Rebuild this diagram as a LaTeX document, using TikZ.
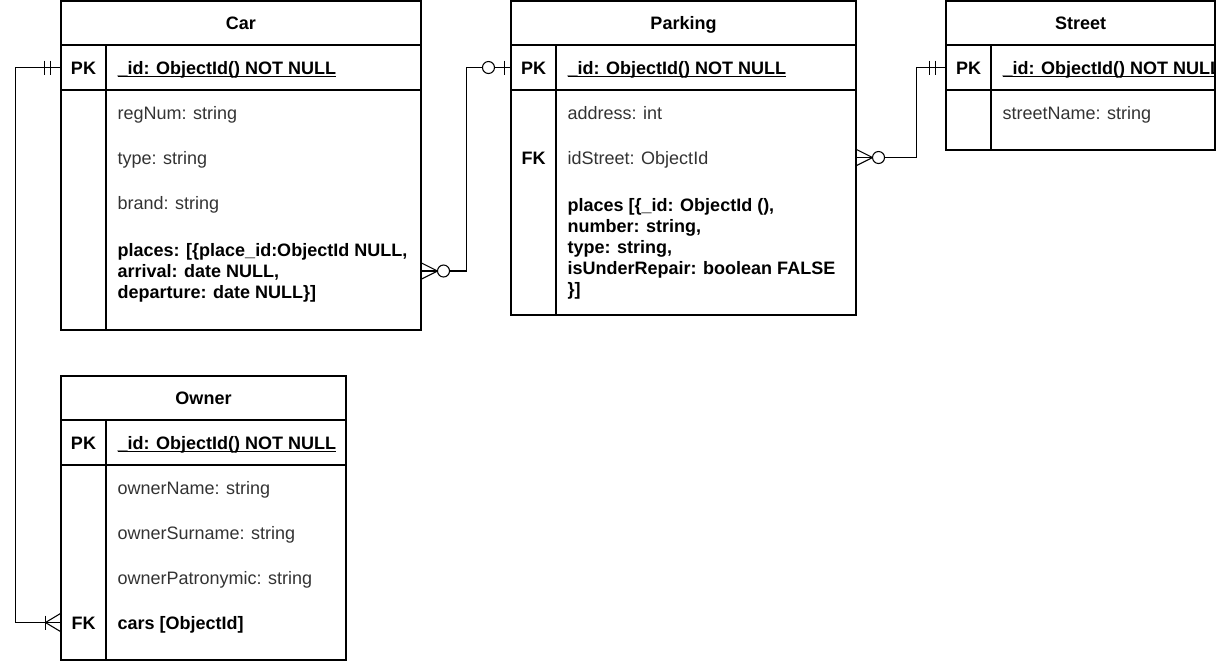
\documentclass[tikz,border=0pt]{standalone}
\usepackage{fontspec}
\setmainfont{Liberation Sans}
\usetikzlibrary{fit,calc}
\definecolor{txtgray}{HTML}{333333}
\newcommand\myul[1]{\setbox0\hbox{#1}\rlap{\rule[-2pt]{\wd0}{0.75pt}}\box0}
\begin{document}
\begin{tikzpicture}[x=0.75pt,y=-0.75pt,line width=0.8pt,
  box/.style={draw=black,line width=0.8pt,inner sep=0pt},
  rowbox/.style={inner sep=0pt},
  hdr/.style={font=\fontsize{13.5}{16}\selectfont\bfseries,text=black,anchor=base,inner sep=0pt},
  keylbl/.style={hdr},
  fld/.style={font=\fontsize{13.5}{16}\selectfont,text=txtgray,anchor=base west,inner sep=0pt},
  bfld/.style={font=\fontsize{13.5}{16}\selectfont\bfseries,text=black,anchor=base west,inner sep=0pt},
  conn/.style={draw=black,line width=0.8pt},
  tick/.style={draw=black,line width=0.8pt},
  ring/.style={draw=black,fill=white,line width=0.8pt}
]
\useasboundingbox (0,0) rectangle (1217,662);

% ---------- Car ----------
\node[box,fit={(61,1)(421,330)}] (car) {};
\draw (61,45) -- (421,45);
\draw (61,90) -- (421,90);
\draw (106,45) -- (106,330);
\node[rowbox,fit={(61,45)(421,90)}] (carpk) {};
\node[rowbox,fit={(61,225)(421,317)}] (carplaces) {};
\node[hdr] (carh) at (241,29.5) {Car};
\node[keylbl] (carpkl) at (83.5,74) {PK};
\node[bfld] (carid) at (117,74) {\myul{\_id: ObjectId() NOT NULL}};
\node[fld] (carreg) at (117,119) {regNum: string};
\node[fld] (cartype) at (117,164) {type: string};
\node[fld] (carbrand) at (117,209) {brand: string};
\node[bfld] (carpl1) at (117,256) {places: [\{place\_id:ObjectId NULL,};
\node[bfld] (carpl2) at (117,277) {arrival: date NULL,};
\node[bfld] (carpl3) at (117,298) {departure: date NULL\}]};

% ---------- Parking ----------
\node[box,fit={(511,1)(856,315)}] (park) {};
\draw (511,45) -- (856,45);
\draw (511,90) -- (856,90);
\draw (556,45) -- (556,315);
\node[rowbox,fit={(511,45)(856,90)}] (parkpk) {};
\node[rowbox,fit={(511,135)(856,180)}] (parkidst) {};
\node[hdr] (parkh) at (683.5,29.5) {Parking};
\node[keylbl] (parkpkl) at (533.5,74) {PK};
\node[bfld] (parkid) at (567,74) {\myul{\_id: ObjectId() NOT NULL}};
\node[fld] (parkaddr) at (567,119) {address: int};
\node[keylbl] (parkfkl) at (533.5,164) {FK};
\node[fld] (parkst) at (567,164) {idStreet: ObjectId};
\node[bfld] (parkpl1) at (567,211.5) {places [\{\_id: ObjectId (),};
\node[bfld] (parkpl2) at (567,232.5) {number: string,};
\node[bfld] (parkpl3) at (567,253.5) {type: string,};
\node[bfld] (parkpl4) at (567,274.5) {isUnderRepair: boolean FALSE};
\node[bfld] (parkpl5) at (567,295.5) {\}]};

% ---------- Street ----------
\node[box,fit={(946,1)(1215,150)}] (street) {};
\draw (946,45) -- (1215,45);
\draw (946,90) -- (1215,90);
\draw (991,45) -- (991,150);
\node[rowbox,fit={(946,45)(1215,90)}] (streetpk) {};
\node[hdr] (streeth) at (1080.5,29.5) {Street};
\node[keylbl] (streetpkl) at (968.5,74) {PK};
\begin{scope}
  \clip (946,0) rectangle (1214.5,662);
  \node[bfld] (streetid) at (1002,74) {\myul{\_id: ObjectId() NOT NULL}};
\end{scope}
\node[fld] (streetname) at (1002,119) {streetName: string};

% ---------- Owner ----------
\node[box,fit={(61,376)(346,660)}] (owner) {};
\draw (61,420) -- (346,420);
\draw (61,465) -- (346,465);
\draw (106,420) -- (106,660);
\node[rowbox,fit={(61,420)(346,465)}] (ownpk) {};
\node[rowbox,fit={(61,600)(346,645)}] (ownfk) {};
\node[hdr] (ownh) at (203.5,404.5) {Owner};
\node[keylbl] (ownpkl) at (83.5,449) {PK};
\node[bfld] (ownid) at (117,449) {\myul{\_id: ObjectId() NOT NULL}};
\node[fld] (ownname) at (117,494) {ownerName: string};
\node[fld] (ownsur) at (117,539) {ownerSurname: string};
\node[fld] (ownpat) at (117,584) {ownerPatronymic: string};
\node[keylbl] (ownfkl) at (83.5,629) {FK};
\node[bfld] (owncars) at (117,629) {cars [ObjectId]};

% ---------- Connectors ----------
\draw[conn] (carpk.west) -- ++(-45,0) |- (ownfk.west);
\draw[conn] (carplaces.east) -- ++(45,0) |- (parkpk.west);
\draw[conn] (parkidst.east) -- ++(60,0) |- (streetpk.west);

% Car PK: mandatory one
\begin{scope}[shift={(carpk.west)}]
  \draw[tick] (-10,-7) -- (-10,7);
  \draw[tick] (-16,-7) -- (-16,7);
\end{scope}
% Owner FK: one to many
\begin{scope}[shift={(ownfk.west)}]
  \draw[tick] (0,-9) -- (-15,0) -- (0,9);
  \draw[tick] (-15,-7) -- (-15,7);
\end{scope}
% Car places: zero to many
\begin{scope}[shift={(carplaces.east)}]
  \draw[tick] (0,-8) -- (16,0) -- (0,8);
  \draw[ring] (22,0) circle[radius=4.5pt];
\end{scope}
% Parking PK: zero to one
\begin{scope}[shift={(parkpk.west)}]
  \draw[tick] (-6,-7) -- (-6,7);
  \draw[ring] (-22,0) circle[radius=4.5pt];
\end{scope}
% Parking idStreet: zero to many
\begin{scope}[shift={(parkidst.east)}]
  \draw[tick] (0,-8) -- (16,0) -- (0,8);
  \draw[ring] (22,0) circle[radius=4.5pt];
\end{scope}
% Street PK: mandatory one
\begin{scope}[shift={(streetpk.west)}]
  \draw[tick] (-10,-7) -- (-10,7);
  \draw[tick] (-16,-7) -- (-16,7);
\end{scope}
\end{tikzpicture}
\end{document}
